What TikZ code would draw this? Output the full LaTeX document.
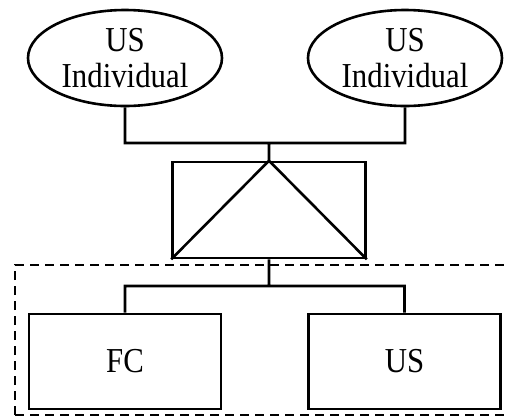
\documentclass[tikz,border=0pt]{standalone}
\usepackage{fontspec}
\setmainfont[FakeStretch=0.88]{Liberation Serif}
\usetikzlibrary{shapes.geometric, positioning}

\begin{document}
\begin{tikzpicture}[x=1pt, y=-1pt, line width=2.6pt, font=\fontsize{35}{36}\selectfont]
\tikzstyle{person}=[ellipse, draw=black, minimum width=194pt, minimum height=96pt, inner sep=0pt, align=center]
\tikzstyle{entity}=[rectangle, draw=black, minimum width=192pt, minimum height=95pt, inner sep=0pt]
\tikzstyle{group}=[draw=black, dash pattern=on 9pt off 6pt]

\useasboundingbox (0,0) rectangle (506,416);

\node[person] (I1) at (125,58) {US\\Individual};
\node[person] (I2) at (405,58) {US\\Individual};
\node[entity, minimum width=193pt, minimum height=96pt] (P) at (269,210) {};
\node[entity] (FC) at (125,361.5) {FC};
\node[entity] (US) at (404.5,361.5) {US};

\coordinate (top) at (269,143);
\coordinate (bot) at (269,286);

\path[draw]
(I1.south) |- (top) -| (I2.south)
(top) -- (P.north)
(P.south west) -- (P.north) -- (P.south east)
(P.south) -- (bot)
(FC.north) |- (bot) -| (US.north);

\draw[group] (15,415) -- (15,265) -- (520,265);
\draw[group] (15,415) -- (520,415);

\end{tikzpicture}
\end{document}
